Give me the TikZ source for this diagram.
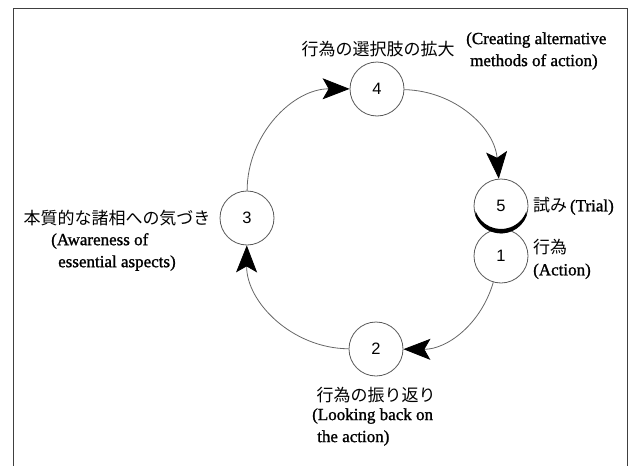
\documentclass[tikz,border=0pt]{standalone}
\usepackage{fontspec}
\setmainfont[FakeBold=1.2]{Liberation Serif}
\newfontfamily\jpfont{Noto Sans CJK JP}
\newfontfamily\numfont{Liberation Sans}
\usetikzlibrary{arrows.meta,calc}
\tikzset{bigtip/.tip={Stealth[length=27pt,width=21pt,inset=6pt]}}
\begin{document}
\begin{tikzpicture}[x=1pt,y=-1pt,
  stage/.style={circle,draw=black!65,line width=0.8pt,fill=white,minimum size=54pt,inner sep=0pt,font=\numfont\fontsize{16.5}{16.5}\selectfont},
  flow/.style={draw=black!60,line width=0.8pt,-{bigtip[black]}},
  lbl/.style={inner sep=0pt,font=\fontsize{17}{22}\selectfont,align=left},
  jlbl/.style={inner sep=0pt,font=\jpfont\fontsize{17}{22}\selectfont},
]
\useasboundingbox (0,0) rectangle (630,466);
\draw[line width=1pt,black!75] (13,466) -- (13,8) -- (627,8) -- (627,466);

\node[stage] (n1) at (501,256) {1};
\node[stage] (n5) at (501,206) {5};
\fill[black] ($(n5.center)+(20:27.4)$) arc[start angle=20,end angle=160,radius=27.4]
  -- ($(n5.center)+(0,-4)+(160:27)$) arc[start angle=160,end angle=20,radius=27] -- cycle;
\node[stage] (n4) at (377,89) {4};
\node[stage] (n3) at (247,218) {3};
\node[stage] (n2) at (376,349) {2};

\draw[flow] (n4) to[bend left=42] (n5);
\draw[flow] (n1) to[bend left=37] (n2);
\draw[flow] (n2) to[bend left=45] (n3);
\draw[flow] (n3) to[bend left=45] (n4);

\node[jlbl] (t4) at (378,49) {行為の選択肢の拡大};
\node[lbl,anchor=west] (e4) at (466,51) {(Creating alternative\\\hspace*{4pt}methods of action)};
\node[lbl,anchor=west] (t5) at (533,206) {{\jpfont 試み}\,(Trial)};
\node[lbl,anchor=west] (t1) at (533,259) {{\jpfont 行為}\\(Action)};
\node[jlbl] (t3) at (117,218) {本質的な諸相への気づき};
\node[lbl,anchor=west] (e3) at (51,252) {(Awareness of\\\hspace*{7pt}essential aspects)};
\node[jlbl] (t2) at (376,395) {行為の振り返り};
\node[lbl,anchor=west] (e2) at (312,427) {(Looking back on\\\hspace*{5pt}the action)};
\end{tikzpicture}
\end{document}
